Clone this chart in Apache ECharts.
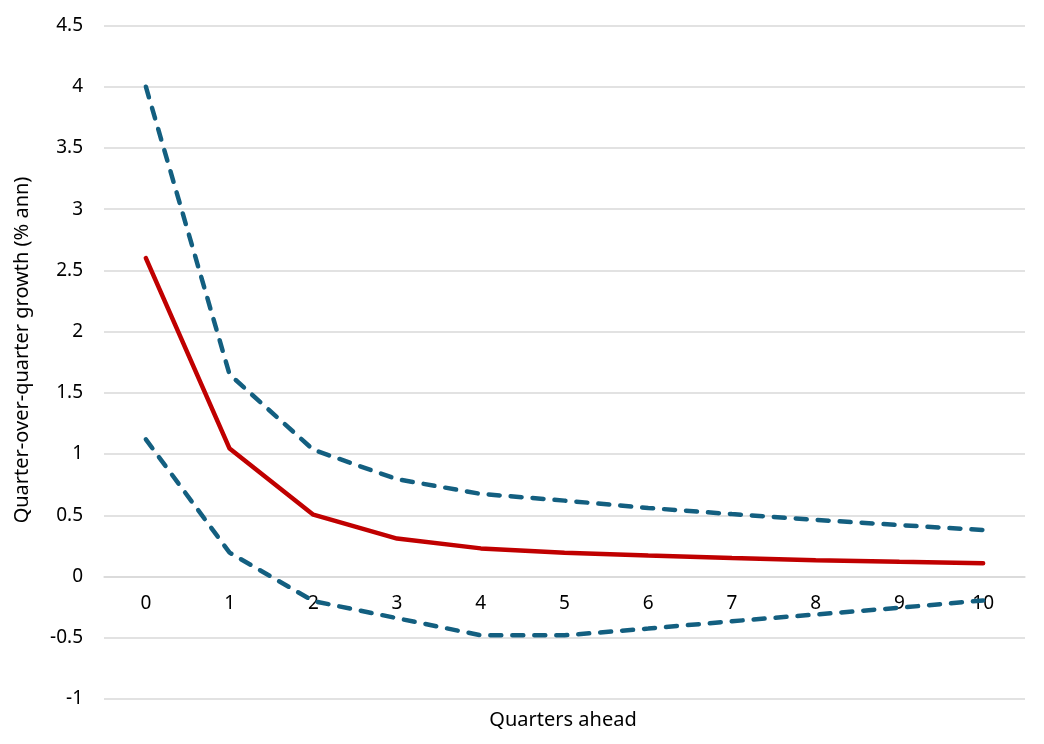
<!DOCTYPE html>
<html>
<head>
<meta charset="utf-8">
<script src="https://cdn.jsdelivr.net/npm/echarts@6/dist/echarts.min.js"></script>
<style>
  html, body { margin: 0; padding: 0; background: #fff; }
  #chart { width: 1044px; height: 744px; }
</style>
</head>
<body>
<div id="chart"></div>
<script>
// 横轴：未来季度
const quarters = ['0', '1', '2', '3', '4', '5', '6', '7', '8', '9', '10']
// 中心预测
const central = [2.6, 1.045, 0.505, 0.31, 0.23, 0.195, 0.172, 0.152, 0.134, 0.12, 0.108]
// 上下区间
const upper = [4.0, 1.65, 1.035, 0.795, 0.675, 0.62, 0.56, 0.51, 0.463, 0.42, 0.38]
const lower = [1.12, 0.195, -0.2, -0.34, -0.48, -0.48, -0.425, -0.365, -0.31, -0.255, -0.195]

const fontFamily = '"Noto Sans", "Liberation Sans", sans-serif'

const chartDom = document.getElementById('chart')
const myChart = echarts.init(chartDom)

const dashed = {
  color: '#135f80',
  width: 4.5,
  type: [11, 11],
  cap: 'round'
}

const option = {
  animation: false,
  grid: {
    left: 104,
    right: 19,
    top: 25.5,
    bottom: 45
  },
  //轴标题
  graphic: [
    {
      type: 'text',
      x: 563,
      y: 720,
      style: {
        text: 'Quarters ahead',
        fontSize: 20,
        fontFamily: fontFamily,
        fill: '#000',
        textAlign: 'center',
        textVerticalAlign: 'middle'
      }
    },
    {
      type: 'text',
      x: 22,
      y: 350,
      rotation: Math.PI / 2,
      style: {
        text: 'Quarter-over-quarter growth (% ann)',
        fontSize: 20,
        fontFamily: fontFamily,
        fill: '#000',
        textAlign: 'center',
        textVerticalAlign: 'middle'
      }
    }
  ],
  xAxis: {
    type: 'category',
    data: quarters,
    boundaryGap: true,
    //横轴放在 0 的位置
    offset: -122.45,
    axisLine: {
      onZero: false,
      lineStyle: { color: '#d9d9d9', width: 1.5 }
    },
    axisTick: { show: false },
    axisLabel: {
      color: '#000',
      fontSize: 19,
      fontFamily: fontFamily,
      margin: 18
    },
    splitLine: { show: false }
  },
  yAxis: {
    type: 'value',
    min: -1,
    max: 4.5,
    interval: 0.5,
    axisLine: { show: false },
    axisTick: { show: false },
    axisLabel: {
      color: '#000',
      fontSize: 19,
      fontFamily: fontFamily,
      margin: 21
    },
    splitLine: {
      show: true,
      lineStyle: { color: '#d9d9d9', width: 1.5 }
    }
  },
  series: [
    {
      name: 'Upper',
      type: 'line',
      data: upper,
      symbol: 'none',
      lineStyle: dashed,
      z: 3
    },
    {
      name: 'Lower',
      type: 'line',
      data: lower,
      symbol: 'none',
      lineStyle: dashed,
      z: 3
    },
    {
      name: 'Central',
      type: 'line',
      data: central,
      symbol: 'none',
      lineStyle: {
        color: '#c00000',
        width: 4.5,
        cap: 'round'
      },
      z: 4
    }
  ]
}

option && myChart.setOption(option)
</script>
</body>
</html>
